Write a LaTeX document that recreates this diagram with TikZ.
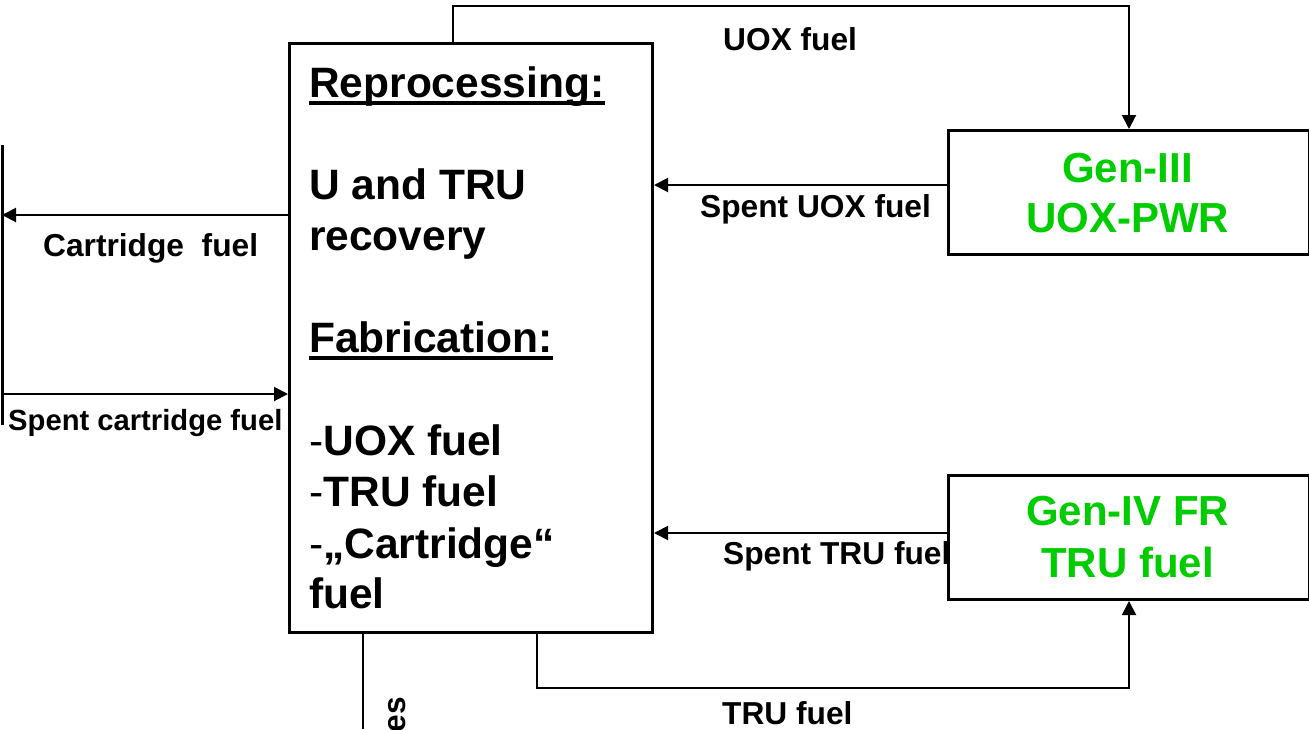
\documentclass[tikz,border=0pt]{standalone}
\usepackage{fontspec}
\setmainfont{Liberation Sans}
\usetikzlibrary{arrows.meta}
\definecolor{reactorgreen}{RGB}{0,204,0}
\tikzset{
  box/.style={draw=black, line width=3pt, fill=white, rectangle, inner sep=0pt},
  flow/.style={draw=black, line width=2pt, -{Triangle[length=14pt,width=14pt]}},
  plain/.style={draw=black, line width=2pt},
  bigtxt/.style={inner sep=0pt, anchor=base west, font=\fontsize{42.5}{51}\selectfont\bfseries},
  lbl/.style={inner sep=0pt, anchor=base west, font=\fontsize{31.7}{38}\selectfont\bfseries},
  gentxt/.style={inner sep=0pt, anchor=base, text=reactorgreen, font=\fontsize{42}{50}\selectfont\bfseries},
  uline/.style={line width=4pt}
}
\begin{document}
\begin{tikzpicture}[x=1pt, y=-1pt]
\useasboundingbox (0,0) rectangle (1309,729);

% reprocessing / fabrication plant
\node[box, anchor=north west, minimum width=363pt, minimum height=589pt] (main) at (288,42) {};
\node[bigtxt] (h1) at (309,97) {Reprocessing:};
\node[bigtxt] (t1) at (309,199) {U and TRU};
\node[bigtxt] (t2) at (309,250) {recovery};
\node[bigtxt] (h2) at (309,352) {Fabrication:};
\node[bigtxt] (t3) at (309,455) {{\mdseries-}UOX fuel};
\node[bigtxt] (t4) at (309,506) {{\mdseries-}TRU fuel};
\node[bigtxt] (t5) at (309,558) {{\mdseries-}„Cartridge“};
\node[bigtxt] (t6) at (309,608) {fuel};
\draw[uline] ([yshift=-5.5pt]h1.base west) -- ([yshift=-5.5pt]h1.base east);
\draw[uline] ([yshift=-5.5pt]h2.base west) -- ([yshift=-5.5pt]h2.base east);

% edge of the cartridge reactor at the left
\coordinate (carttop) at (2,145);
\coordinate (cartbot) at (2,425);
\draw[line width=3pt] (carttop) -- (cartbot);

% flow labels
\node[lbl] (lcart) at (43,256) {Cartridge~ fuel};
\node[inner sep=0pt, anchor=base west, font=\fontsize{29.2}{35}\selectfont\bfseries] (lspentcart) at (8,430) {Spent cartridge fuel};
\node[lbl] (luox) at (723,50) {UOX fuel};
\node[lbl] (lspentuox) at (700,217) {Spent UOX fuel};
\node[lbl] (lspenttru) at (723,564) {Spent TRU fuel};
\node[lbl] (ltru) at (722,724) {TRU fuel};
\node[lbl, rotate=90, anchor=base east] (lwaste) at (405,697) {es};

% reactors
\node[box, anchor=north west, minimum width=361pt, minimum height=124pt] (gen3) at (947,129) {};
\node[gentxt] (g3a) at (1127.5,182) {Gen-III};
\node[gentxt] (g3b) at (1127.5,232) {UOX-PWR};
\node[box, anchor=north west, minimum width=361pt, minimum height=124pt] (gen4) at (947,474) {};
\node[gentxt] (g4a) at (1127.5,525) {Gen-IV FR};
\node[gentxt] (g4b) at (1127.5,577) {TRU fuel};

% fuel flows
\draw[flow] (main.west |- 0,215) -- (carttop |- 0,215);
\draw[flow] (carttop |- 0,394) -- (main.west |- 0,394);
\draw[flow] (main.north -| 453,0) -- (453,6) -- (1129,6) -- (gen3.north -| 1129,0);
\draw[flow] (gen3.west |- 0,185) -- (main.east |- 0,185);
\draw[flow] (gen4.west |- 0,533) -- (main.east |- 0,533);
\draw[flow] (main.south -| 537,0) -- (537,688) -- (1129,688) -- (gen4.south -| 1129,0);
\draw[plain] (main.south -| 363,0) -- (363,729);
\end{tikzpicture}
\end{document}
